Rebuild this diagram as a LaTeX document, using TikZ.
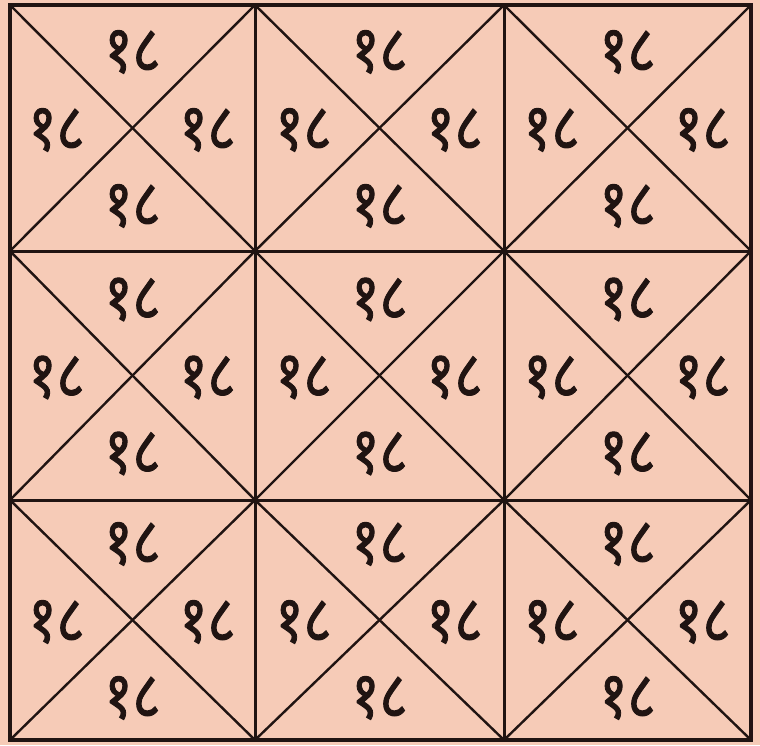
\documentclass[tikz,border=0pt]{standalone}
\usepackage{fontspec}
\usetikzlibrary{calc}
\newfontfamily\devfont[Script=Devanagari,FakeBold=1.6]{Noto Sans}
\definecolor{paper}{RGB}{246,203,183}
\definecolor{ink}{RGB}{32,20,18}
\newcommand{\yantratext}{\scalebox{1.15}[1.4]{\devfont\fontsize{47}{47}\selectfont १८}}
\begin{document}
\begin{tikzpicture}[x=1pt,y=-1pt,
  gridline/.style={draw=ink,line width=3pt},
  frameline/.style={draw=ink,line width=4.4pt,line join=miter},
  diagline/.style={draw=ink,line width=2.4pt},
  lbl/.style={text=ink,inner sep=0pt}]
\fill[paper] (0,0) rectangle (760,745);
\useasboundingbox (0,0) rectangle (760,745);
% grid corners
\foreach \c/\x in {0/10,1/255,2/504,3/751}{
  \foreach \r/\y in {0/5,1/251,2/500,3/740}{
    \coordinate (p\c\r) at (\x,\y);
  }
}
% squares: diagonals and labels
\foreach \c in {0,1,2}{
  \foreach \r in {0,1,2}{
    \pgfmathtruncatemacro{\cn}{\c+1}
    \pgfmathtruncatemacro{\rn}{\r+1}
    \coordinate (m\c\r) at ($(p\c\r)!0.5!(p\cn\rn)$);
    \draw[diagline] (p\c\r) -- (p\cn\rn);
    \draw[diagline] (p\cn\r) -- (p\c\rn);
    \node[lbl] (t\c\r) at ($(m\c\r)+(0,-76)$) {\yantratext};
    \node[lbl] (l\c\r) at ($(m\c\r)+(-76,2)$) {\yantratext};
    \node[lbl] (r\c\r) at ($(m\c\r)+(75,2)$) {\yantratext};
    \node[lbl] (b\c\r) at ($(m\c\r)+(0,78)$) {\yantratext};
  }
}
% inner grid lines
\draw[gridline] (p10) -- (p13);
\draw[gridline] (p20) -- (p23);
\draw[gridline] (p01) -- (p31);
\draw[gridline] (p02) -- (p32);
% frame
\draw[frameline] (p00) rectangle (p33);
\end{tikzpicture}
\end{document}
